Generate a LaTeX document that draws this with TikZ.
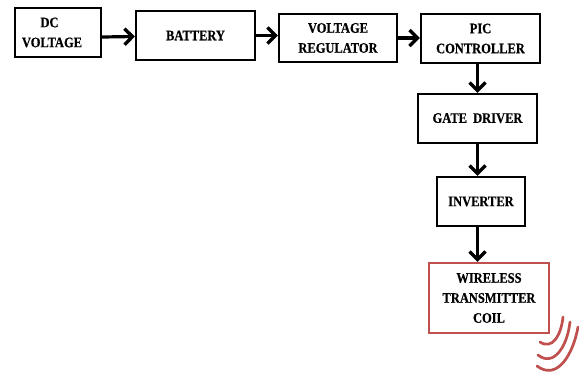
\documentclass[tikz,border=0pt]{standalone}
\usepackage{fontspec}
\setmainfont{Liberation Serif}
\newfontfamily\labelfont[FakeStretch=0.86,BoldFont={Liberation Serif Bold},BoldFeatures={FakeBold=0.4}]{Liberation Serif}
\usetikzlibrary{arrows.meta}
\definecolor{coilred}{HTML}{C0504D}
\tikzset{
  x=1pt,y=-1pt,
  blockbox/.style={draw=black,line width=2.2pt,fill=white,align=center,inner sep=0pt,font=\labelfont\bfseries\fontsize{14.5}{20}\selectfont},
  coilbox/.style={blockbox,draw=coilred},
  flow/.style={draw=black,line width=3.2pt,-{Straight Barb[length=8pt,width=16pt,line width=3.4pt]}},
  wave/.style={draw=coilred,line width=2.7pt,line cap=round}
}
\begin{document}
\begin{tikzpicture}
\useasboundingbox (0,0) rectangle (579,375);
\fill[white] (0,0) rectangle (579,375);
\node[blockbox,minimum width=86pt,minimum height=49pt] (dc) at (58,32.5) {\hspace*{-17pt}DC\\\hspace*{-12pt}VOLTAGE};
\node[blockbox,minimum width=119pt,minimum height=49pt] (bat) at (195.5,35.5) {BATTERY};
\node[blockbox,minimum width=118pt,minimum height=48pt] (reg) at (338,38) {VOLTAGE\\REGULATOR};
\node[blockbox,minimum width=119pt,minimum height=49pt] (pic) at (480.5,38.5) {PIC\\CONTROLLER};
\node[blockbox,minimum width=119pt,minimum height=49pt] (gate) at (477.5,118.5) {\raisebox{1pt}{GATE\ \ DRIVER}};
\node[blockbox,minimum width=88pt,minimum height=49pt] (inv) at (481,201.5) {INVERTER};
\node[coilbox,minimum width=120pt,minimum height=70pt] (coil) at (489,298) {WIRELESS\\TRANSMITTER\\COIL};
\draw[flow] ([yshift=-4.5pt]dc.east) -- ([yshift=-1pt]bat.west);
\draw[flow] (bat.east) -- (reg.west |- bat.east);
\draw[flow] (reg.east) -- (pic.west |- reg.east);
\draw[flow] (pic.south -| gate.north) -- (gate.north);
\draw[flow] (gate.south) -- (gate.south |- inv.north);
\draw[flow] (inv.south -| gate.south) -- (gate.south |- coil.north);
\coordinate (w1a) at (563,317); \coordinate (w1b) at (540,342);
\coordinate (w2a) at (570,322); \coordinate (w2b) at (538,355);
\coordinate (w3a) at (578,327); \coordinate (w3b) at (537,366);
\draw[wave] (w1a) .. controls (561,336) and (552,350) .. (w1b);
\draw[wave] (w2a) .. controls (567,348) and (553,367) .. (w2b);
\draw[wave] (w3a) .. controls (573,355) and (557,381) .. (w3b);
\end{tikzpicture}
\end{document}
